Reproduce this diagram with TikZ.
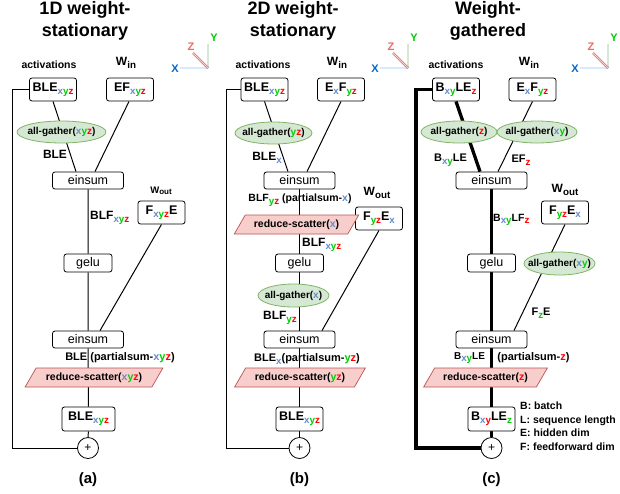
\documentclass[tikz,border=0pt]{standalone}
\usepackage{fontspec}
\setmainfont{Liberation Sans}
\usepackage{xcolor}
\usetikzlibrary{shapes.geometric,backgrounds}

\definecolor{subx}{RGB}{102,140,204}
\definecolor{suby}{RGB}{0,204,0}
\definecolor{subz}{RGB}{255,0,0}
\definecolor{axisx}{RGB}{0,102,204}
\definecolor{axisz}{RGB}{234,107,102}
\definecolor{xfill}{RGB}{218,232,252}
\definecolor{xline}{RGB}{108,142,191}
\definecolor{gfill}{RGB}{213,232,212}
\definecolor{gline}{RGB}{130,179,102}
\definecolor{rfill}{RGB}{248,206,204}
\definecolor{rline}{RGB}{184,84,80}

\newcommand{\colx}{\textcolor{subx}{x}}
\newcommand{\coly}{\textcolor{suby}{y}}
\newcommand{\colz}{\textcolor{subz}{z}}
\newcommand{\xyz}{\colx\coly\colz}
\newcommand{\low}[1]{\raisebox{-0.5ex}{\fontsize{9.8}{10}\selectfont #1}}
\newcommand{\tight}[1]{\makebox[0pt]{#1}}

\tikzset{
  tensor/.style={draw, line width=0.8pt, rounded corners=2.5pt, fill=white, minimum width=47, minimum height=23,
    inner sep=2pt, font=\bfseries\fontsize{12.5}{14}\selectfont},
  op/.style={draw, line width=0.8pt, rounded corners=2.5pt, fill=white, minimum width=71, minimum height=17,
    inner sep=1pt, font=\fontsize{12.5}{14}\selectfont},
  gather/.style={ellipse, draw=gline, line width=0.8pt, fill=gfill, minimum height=22, inner sep=0pt,
    font=\bfseries\fontsize{10}{12}\selectfont},
  scatter/.style={trapezium, trapezium left angle=60, trapezium right angle=120,
    draw=rline, line width=0.7pt, fill=rfill, minimum height=19, inner xsep=0pt, inner ysep=3pt,
    font=\bfseries\fontsize{10.5}{12}\selectfont},
  addnode/.style={circle, draw, line width=0.8pt, fill=white, minimum size=21, inner sep=0pt,
    font=\fontsize{12}{14}\selectfont},
  lbl/.style={inner sep=0pt, font=\bfseries\fontsize{12}{14}\selectfont},
  smalllbl/.style={inner sep=0pt, font=\bfseries\fontsize{10.5}{12}\selectfont},
  headline/.style={align=center, font=\bfseries\fontsize{18}{22}\selectfont},
  panel/.style={font=\bfseries\fontsize{15}{18}\selectfont},
  wire/.style={line width=1pt},
  fat/.style={line width=3.3pt},
  axline/.style={double distance=1.3pt, line width=0.5pt},
  axlbl/.style={inner sep=0pt, font=\bfseries\fontsize{11}{13}\selectfont}
}

\begin{document}
\begin{tikzpicture}[x=1pt, y=-1pt]
  \useasboundingbox (0,0) rectangle (620,493);

  % Axes icons
  \foreach \ox in {208,408,608} {
    \draw[axline, draw=xline, double=xfill] (\ox-28,68) -- (\ox,68);
    \draw[axline, draw=gline, double=gfill] (\ox,68) -- (\ox,44);
    \draw[axline, draw=rline, double=rfill] (\ox,68) -- (\ox-15,53);
    \node[axlbl, text=axisx] at (\ox-33,69) {X};
    \node[axlbl, text=suby] at (\ox+6,38) {Y};
    \node[axlbl, text=axisz] at (\ox-17,47) {Z};
  }

  % (a) 1D weight-stationary
  \node[headline] (a-title) at (85,21) {1D weight-\\stationary};
  \node[smalllbl] (a-actlbl) at (49,65) {activations};
  \node[lbl] (a-winlbl) at (126,63) {W\low{in}};
  \node[tensor] (a-act) at (53,89.5) {BLE\low{\xyz}};
  \node[tensor] (a-win) at (130,89.5) {EF\low{\xyz}};
  \node[gather, minimum width=89] (a-ag) at (61.5,132) {\tight{all-gather(\xyz)}};
  \node[lbl] (a-ble) at (55,154) {BLE};
  \node[op] (a-ein1) at (88,180.5) {einsum};
  \node[inner sep=0pt, font=\bfseries\fontsize{9.5}{11}\selectfont] (a-woutlbl) at (161,191) {W\raisebox{-0.3ex}{\fontsize{8}{8}\selectfont out}};
  \node[tensor] (a-fe) at (161.5,212.5) {F\low{\xyz}E};
  \node[lbl, anchor=west] (a-blf) at (90,218) {BLF\low{\xyz}};
  \node[op, minimum width=48, minimum height=18] (a-gelu) at (88,263) {gelu};
  \node[op] (a-ein2) at (88,339.5) {einsum};
  \node[smalllbl, font=\bfseries\fontsize{11}{13}\selectfont] (a-ps) at (120,358) {BLE (partialsum-\xyz)};
  \node[scatter] (a-rs) at (94,377.5) {reduce-scatter(\xyz)};
  \node[tensor, minimum width=53, minimum height=24] (a-out) at (88.5,419) {BLE\low{\xyz}};
  \node[addnode] (a-sum) at (88,448) {+};
  \node[panel] (a-cap) at (88,480) {(a)};

  % (b) 2D weight-stationary
  \node[headline] (b-title) at (293,21) {2D weight-\\stationary};
  \node[smalllbl] (b-actlbl) at (263,65) {activations};
  \node[lbl] (b-winlbl) at (337,63) {W\low{in}};
  \node[tensor] (b-act) at (264.5,89.5) {BLE\low{\xyz}};
  \node[tensor] (b-win) at (341,89.5) {E\low{\colx}F\low{\coly\colz}};
  \node[gather, minimum width=77] (b-ag) at (273.5,133) {\tight{all-gather(\coly\colz)}};
  \node[lbl] (b-ble) at (267,158) {BLE\low{\colx}};
  \node[op] (b-ein1) at (299.5,180.5) {einsum};
  \node[smalllbl] (b-ps1) at (300,200) {BLF\low{\coly\colz} (partialsum-\colx)};
  \node[lbl] (b-woutlbl) at (377,193) {W\low{out}};
  \node[tensor] (b-fe) at (379,218.5) {F\low{\coly\colz}E\low{\colx}};
  \node[scatter] (b-rs1) at (296.5,224.5) {reduce-scatter(\colx)};
  \node[lbl, anchor=west] (b-blf) at (302,245) {BLF\low{\xyz}};
  \node[op, minimum width=48, minimum height=18] (b-gelu) at (299.5,263) {gelu};
  \node[gather, minimum width=71, minimum height=23] (b-ag2) at (293.5,295.5) {\tight{all-gather(\colx)}};
  \node[lbl] (b-blf2) at (280,318) {BLF\low{\coly\colz}};
  \node[op] (b-ein2) at (299.5,339.5) {einsum};
  \node[smalllbl, font=\bfseries\fontsize{11}{13}\selectfont] (b-ps2) at (307,359) {BLE\low{\colx}(partialsum-\coly\colz)};
  \node[scatter] (b-rs2) at (300,377.5) {reduce-scatter(\coly\colz)};
  \node[tensor, minimum height=24] (b-out) at (299.5,419) {BLE\low{\xyz}};
  \node[addnode] (b-sum) at (299.5,448) {+};
  \node[panel] (b-cap) at (299.5,480) {(b)};

  % (c) weight-gathered
  \node[headline] (c-title) at (488,21) {Weight-\\gathered};
  \node[smalllbl] (c-actlbl) at (456,65) {activations};
  \node[lbl] (c-winlbl) at (529,63) {W\low{in}};
  \node[tensor] (c-act) at (456,89.5) {B\low{\colx\coly}LE\low{\colz}};
  \node[tensor] (c-win) at (532.5,89.5) {E\low{\colx}F\low{\coly\colz}};
  \node[gather, minimum width=76] (c-ag1) at (459,132) {\tight{all-gather(\colz)}};
  \node[gather, minimum width=80] (c-ag2) at (537,132) {\tight{all-gather(\colx\coly)}};
  \node[smalllbl, font=\bfseries\fontsize{11}{13}\selectfont] (c-ble) at (450.5,160) {B\low{\colx\coly}LE};
  \node[smalllbl, font=\bfseries\fontsize{11}{13}\selectfont] (c-efz) at (521,160) {EF\low{\colz}};
  \node[op] (c-ein1) at (491.5,180.5) {einsum};
  \node[lbl] (c-woutlbl) at (565,190) {W\low{out}};
  \node[tensor] (c-fe) at (565,212.5) {F\low{\coly\colz}E\low{\colx}};
  \node[smalllbl, anchor=west] (c-blf) at (493,220) {B\low{\colx\coly}LF\low{\colz}};
  \node[op, minimum width=48, minimum height=18] (c-gelu) at (491.5,263) {gelu};
  \node[gather, minimum width=71, minimum height=23] (c-ag3) at (559.5,263.5) {\tight{all-gather(\colx\coly)}};
  \node[smalllbl, font=\bfseries\fontsize{11}{13}\selectfont] (c-fze) at (541,313) {F\low{\textcolor{suby}{z}}E};
  \node[op] (c-ein2) at (491.5,339.5) {einsum};
  \node[smalllbl, font=\bfseries\fontsize{10}{12}\selectfont] (c-ble2) at (469.5,358) {B\low{\colx\coly}LE};
  \node[smalllbl, font=\bfseries\fontsize{11}{13}\selectfont] (c-ps) at (533.5,358) {(partialsum-\colz)};
  \node[scatter] (c-rs) at (485.5,377.5) {reduce-scatter(\colz)};
  \node[tensor, minimum height=24] (c-out) at (491.5,419) {B\low{\colx\textcolor{subz}{y}}LE\low{\textcolor{suby}{z}}};
  \node[addnode] (c-sum) at (491.5,448) {+};
  \node[panel] (c-cap) at (491.5,480) {(c)};
  \node[smalllbl, anchor=north west, align=left, font=\bfseries\fontsize{10.5}{13.5}\selectfont] (c-legend) at (520,402)
    {B: batch\\L: sequence length\\E: hidden dim\\F: feedforward dim};

  % Connectors
  \begin{scope}[on background layer]
    \draw[wire] (a-act.south) -- ([xshift=-12pt]a-ein1.north);
    \draw[wire] ([xshift=-1pt]a-win.south) -- ([xshift=7pt]a-ein1.north);
    \draw[wire] (a-ein1) -- (a-gelu) -- (a-ein2) -- (a-out) -- (a-sum);
    \draw[wire] (a-fe.south) -- ([xshift=12pt]a-ein2.north);
    \draw[wire] (a-act.west) -- ++(-17,0) |- (a-sum.west);

    \draw[wire] (b-act.south) -- ([xshift=-11.5pt]b-ein1.north);
    \draw[wire] (b-win.south) -- ([xshift=7.5pt]b-ein1.north);
    \draw[wire] (b-ein1) -- (b-gelu) -- (b-ein2) -- (b-out) -- (b-sum);
    \draw[wire] (b-fe.south) -- ([xshift=22.5pt]b-ein2.north);
    \draw[wire] (b-act.west) -- ++(-14,0) |- (b-sum.west);

    \draw[fat] (c-act.south) -- ([xshift=-11.5pt]c-ein1.north);
    \draw[wire] (c-win.south) -- ([xshift=6.5pt]c-ein1.north);
    \draw[fat] (c-ein1) -- (c-gelu) -- (c-ein2) -- (c-out) -- (c-sum);
    \draw[wire] (c-fe.south) -- ([xshift=22.5pt]c-ein2.north);
    \draw[fat] (c-act.west) -- ++(-16,0) |- (c-sum.west);
  \end{scope}

\end{tikzpicture}
\end{document}
